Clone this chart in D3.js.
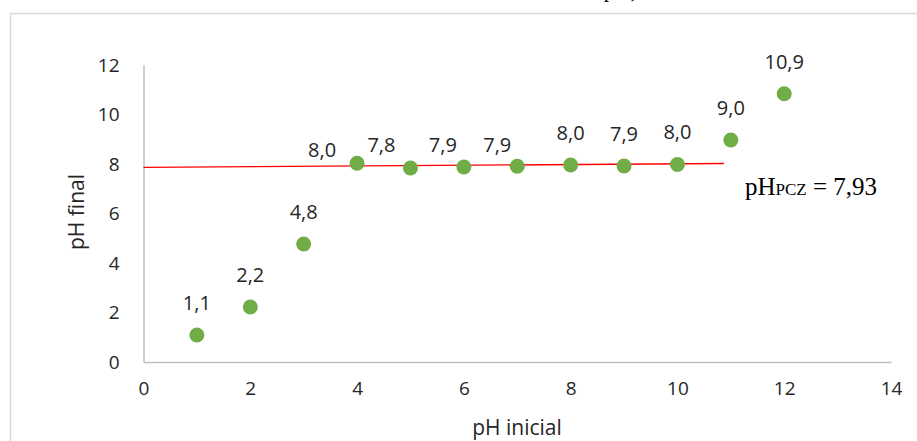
<!DOCTYPE html>
<html>
<head>
<meta charset="utf-8">
<script src="https://cdn.jsdelivr.net/npm/d3@7"></script>
<style>
  body { margin: 0; background: #fff; }
  svg { display: block; }
</style>
</head>
<body>
<svg id="chart" width="917" height="441"></svg>
<script>
// data
const phInicial = [1, 2, 3, 4, 5, 6, 7, 8, 9, 10, 11, 12];
const phFinal = [1.09, 2.22, 4.77, 8.03, 7.84, 7.88, 7.91, 7.96, 7.92, 7.98, 8.97, 10.84];
const pointLabels = ['1,1', '2,2', '4,8', '8,0', '7,8', '7,9', '7,9', '8,0', '7,9', '8,0', '9,0', '10,9'];
// manual label nudges (px), like the original chart
const labelDx = [0, 0, 0, -35, -29, -21, -20, 0, 0, 0, 0, 0];
const labelDy = [-25, -25, -25, -6, -16, -15, -14, -25, -25, -25, -25, -25];
const xTicks = [0, 2, 4, 6, 8, 10, 12, 14];
const yTicks = [0, 2, 4, 6, 8, 10, 12];
const pczLine = [[0, 7.86], [10.87, 8.02]];

const svg = d3.select('#chart');
const width = 917, height = 441;

const x = d3.scaleLinear().domain([0, 14]).range([143.5, 891]);
const y = d3.scaleLinear().domain([0, 12]).range([362, 65]);

const font = "'Open Sans', sans-serif";

// outer border of the chart area
svg.append('rect')
  .attr('x', 10.5).attr('y', 13.5)
  .attr('width', width).attr('height', height)
  .attr('fill', 'none')
  .attr('stroke', '#d9d9d9')
  .attr('stroke-width', 1.5);

// title, cut off at the top (only descenders show in the original)
svg.append('text')
  .attr('x', 638).attr('y', -3)
  .attr('text-anchor', 'end')
  .attr('font-family', "'Liberation Serif', serif")
  .attr('font-size', 22)
  .attr('fill', '#000')
  .text('pH)');

// axes
const xAxis = svg.append('g')
  .attr('transform', `translate(0,${y(0)})`)
  .call(d3.axisBottom(x).tickValues(xTicks).tickSize(0).tickPadding(20).tickFormat(d3.format('d')));
const yAxis = svg.append('g')
  .attr('transform', `translate(${x(0)},0)`)
  .call(d3.axisLeft(y).tickValues(yTicks).tickSize(0).tickPadding(24).tickFormat(d3.format('d')));

[xAxis, yAxis].forEach(g => {
  g.select('.domain').attr('stroke', '#bfbfbf').attr('stroke-width', 1.5);
  g.selectAll('text')
    .attr('font-family', font)
    .attr('font-size', 19)
    .attr('fill', '#262626');
});

// axis titles
svg.append('text')
  .attr('x', 517).attr('y', 435)
  .attr('text-anchor', 'middle')
  .attr('font-family', font)
  .attr('font-size', 21)
  .attr('fill', '#262626')
  .text('pH inicial');

svg.append('text')
  .attr('transform', 'translate(84,212) rotate(-90)')
  .attr('text-anchor', 'middle')
  .attr('font-family', font)
  .attr('font-size', 21)
  .attr('fill', '#262626')
  .text('pH final');

// pH pcz line
svg.append('line')
  .attr('x1', x(pczLine[0][0])).attr('y1', y(pczLine[0][1]))
  .attr('x2', x(pczLine[1][0])).attr('y2', y(pczLine[1][1]))
  .attr('stroke', '#ff0000')
  .attr('stroke-width', 1.3);

const pts = phInicial.map((v, i) => ({ x: v, y: phFinal[i], label: pointLabels[i], dx: labelDx[i], dy: labelDy[i] }));

svg.append('g')
  .selectAll('circle')
  .data(pts)
  .join('circle')
    .attr('cx', d => x(d.x))
    .attr('cy', d => y(d.y))
    .attr('r', 7.5)
    .attr('fill', '#70ad47');

svg.append('g')
  .selectAll('text')
  .data(pts)
  .join('text')
    .attr('x', d => x(d.x) + d.dx)
    .attr('y', d => y(d.y) + d.dy)
    .attr('text-anchor', 'middle')
    .attr('font-family', font)
    .attr('font-size', 20)
    .attr('fill', '#262626')
    .text(d => d.label);

// pH PCZ annotation
const ann = svg.append('text')
  .attr('x', 745).attr('y', 195)
  .attr('font-family', "'Liberation Serif', serif")
  .attr('font-size', 25)
  .attr('fill', '#000');
ann.append('tspan').text('pH');
ann.append('tspan').attr('font-size', 17).text('PCZ');
ann.append('tspan').text(' = 7,93');
</script>
</body>
</html>
